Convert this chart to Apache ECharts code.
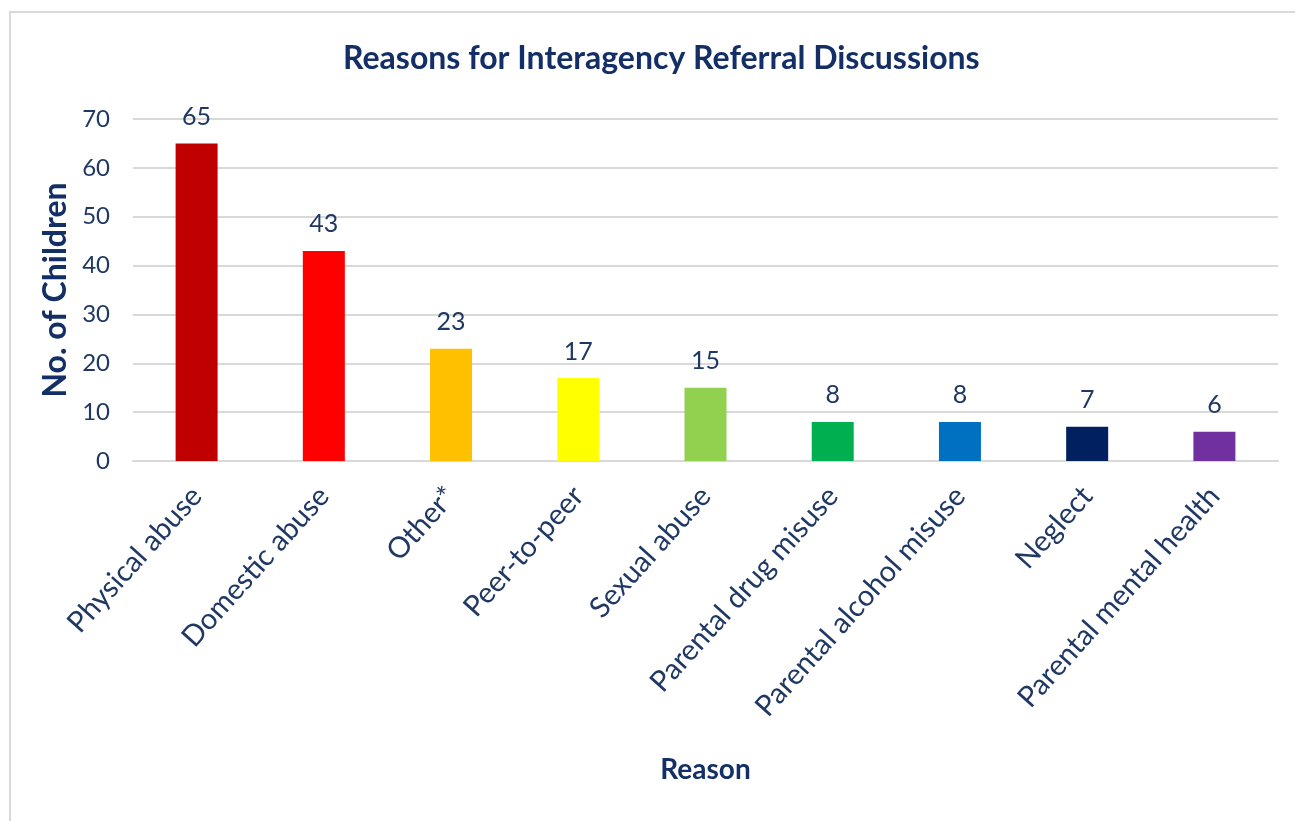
<!DOCTYPE html>
<html>
<head>
<meta charset="utf-8">
<script src="https://cdn.jsdelivr.net/npm/echarts@6/dist/echarts.min.js"></script>
<style>
html,body{margin:0;padding:0;background:#fff;}
#chart{width:1295px;height:821px;}
</style>
</head>
<body>
<div id="chart"></div>
<script>
const categories = ["Physical abuse","Domestic abuse","Other*","Peer-to-peer","Sexual abuse","Parental drug misuse","Parental alcohol misuse","Neglect","Parental mental health"];
const values = [65, 43, 23, 17, 15, 8, 8, 7, 6];
const barColors = ["#C00000","#FF0000","#FFC000","#FFFF00","#92D050","#00B050","#0070C0","#002060","#7030A0"];

const navy = "#1F3864";
const font = "Lato, 'Open Sans', sans-serif";
const chart = echarts.init(document.getElementById('chart'), null, {renderer:'canvas'});
chart.setOption({
  backgroundColor: '#fff',
  animation: false,
  graphic: [{
    type: 'rect',
    shape: {x: 10, y: 12, width: 1400, height: 900},
    style: {fill: 'none', stroke: '#D9D9D9', lineWidth: 2},
    silent: true
  }],
  title: {
    text: 'Reasons for Interagency Referral Discussions',
    left: 338,
    top: 38,
    textStyle: {fontFamily: font, fontSize: 32, fontWeight: 'bold', color: '#142F66'}
  },
  grid: {left: 133, right: 17, top: 119, bottom: 360, containLabel: false},
  xAxis: {
    type: 'category',
    data: categories,
    name: 'Reason',
    nameLocation: 'middle',
    nameGap: 295,
    nameTextStyle: {fontFamily: font, fontSize: 28, fontWeight: 'bold', color: '#142F66'},
    axisLine: {show: true, lineStyle: {color: '#D9D9D9', width: 2}},
    axisTick: {show: false},
    axisLabel: {rotate: 48, fontFamily: font, fontSize: 29, color: navy, margin: 30, interval: 0}
  },
  yAxis: {
    type: 'value',
    min: 0, max: 70, interval: 10,
    name: 'No. of Children',
    nameLocation: 'middle',
    nameGap: 54,
    nameRotate: 90,
    nameTextStyle: {fontFamily: font, fontSize: 32, fontWeight: 'bold', color: '#142F66'},
    axisLine: {show: false},
    axisTick: {show: false},
    axisLabel: {fontFamily: font, fontSize: 24, color: navy, margin: 23},
    splitLine: {lineStyle: {color: '#D9D9D9', width: 2}}
  },
  series: [{
    type: 'bar',
    data: values.map((v, i) => ({value: v, itemStyle: {color: barColors[i]}})),
    barWidth: 42,
    label: {show: true, position: 'top', distance: 14, fontFamily: font, fontSize: 25, color: navy}
  }]
});
</script>
</body>
</html>
